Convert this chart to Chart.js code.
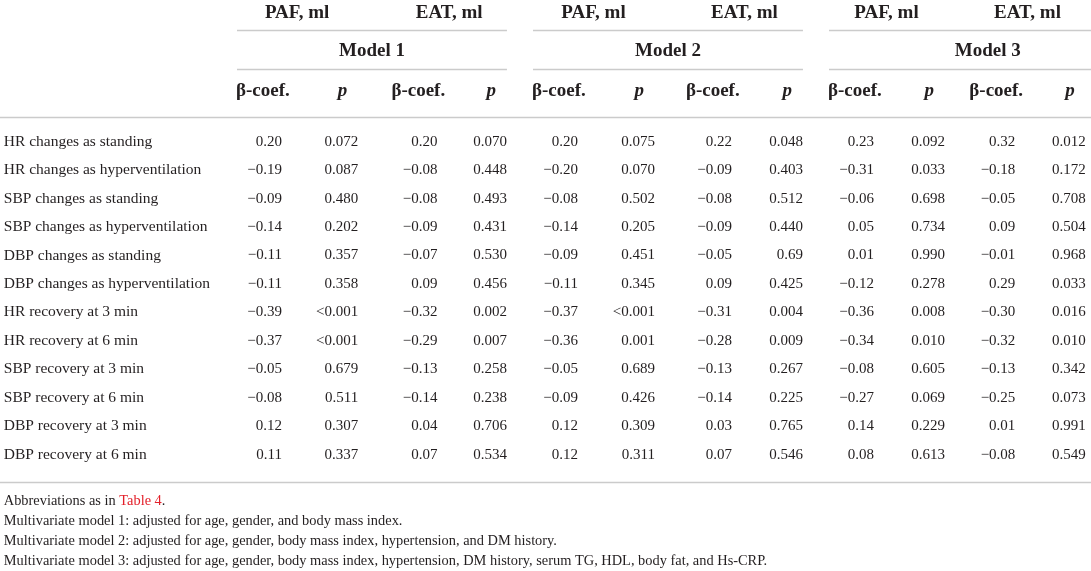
<!DOCTYPE html>
<html>
<head>
<meta charset="utf-8">
<script src="https://cdn.jsdelivr.net/npm/chart.js@4.4.1/dist/chart.umd.min.js"></script>
<style>
  html, body { margin: 0; padding: 0; background: #fff; }
  #wrap { width: 1091px; height: 571px; position: relative; }
</style>
</head>
<body>
<div id="wrap"><canvas id="tableChart"></canvas></div>
<script>
const rowLabels = [
    'HR changes as standing',
    'HR changes as hyperventilation',
    'SBP changes as standing',
    'SBP changes as hyperventilation',
    'DBP changes as standing',
    'DBP changes as hyperventilation',
    'HR recovery at 3 min',
    'HR recovery at 6 min',
    'SBP recovery at 3 min',
    'SBP recovery at 6 min',
    'DBP recovery at 3 min',
    'DBP recovery at 6 min'
];
const models = ['Model 1', 'Model 2', 'Model 3'];
const fatLabels = ['PAF, ml', 'EAT, ml'];
const statLabels = ['β-coef.', 'p'];

// Model 1
const m1PafBeta = [0.20, -0.19, -0.09, -0.14, -0.11, -0.11, -0.39, -0.37, -0.05, -0.08, 0.12, 0.11];
const m1PafP = ['0.072', '0.087', '0.480', '0.202', '0.357', '0.358', '<0.001', '<0.001', '0.679', '0.511', '0.307', '0.337'];
const m1EatBeta = [0.20, -0.08, -0.08, -0.09, -0.07, 0.09, -0.32, -0.29, -0.13, -0.14, 0.04, 0.07];
const m1EatP = ['0.070', '0.448', '0.493', '0.431', '0.530', '0.456', '0.002', '0.007', '0.258', '0.238', '0.706', '0.534'];
// Model 2
const m2PafBeta = [0.20, -0.20, -0.08, -0.14, -0.09, -0.11, -0.37, -0.36, -0.05, -0.09, 0.12, 0.12];
const m2PafP = ['0.075', '0.070', '0.502', '0.205', '0.451', '0.345', '<0.001', '0.001', '0.689', '0.426', '0.309', '0.311'];
const m2EatBeta = [0.22, -0.09, -0.08, -0.09, -0.05, 0.09, -0.31, -0.28, -0.13, -0.14, 0.03, 0.07];
const m2EatP = ['0.048', '0.403', '0.512', '0.440', '0.69', '0.425', '0.004', '0.009', '0.267', '0.225', '0.765', '0.546'];
// Model 3
const m3PafBeta = [0.23, -0.31, -0.06, 0.05, 0.01, -0.12, -0.36, -0.34, -0.08, -0.27, 0.14, 0.08];
const m3PafP = ['0.092', '0.033', '0.698', '0.734', '0.990', '0.278', '0.008', '0.010', '0.605', '0.069', '0.229', '0.613'];
const m3EatBeta = [0.32, -0.18, -0.05, 0.09, -0.01, 0.29, -0.30, -0.32, -0.13, -0.25, 0.01, -0.08];
const m3EatP = ['0.012', '0.172', '0.708', '0.504', '0.968', '0.033', '0.016', '0.010', '0.342', '0.073', '0.991', '0.549'];

const footnotes = [
    'Multivariate model 1: adjusted for age, gender, and body mass index.',
    'Multivariate model 2: adjusted for age, gender, body mass index, hypertension, and DM history.',
    'Multivariate model 3: adjusted for age, gender, body mass index, hypertension, DM history, serum TG, HDL, body fat, and Hs-CRP.'
];

const columns = [
    m1PafBeta, m1PafP, m1EatBeta, m1EatP,
    m2PafBeta, m2PafP, m2EatBeta, m2EatP,
    m3PafBeta, m3PafP, m3EatBeta, m3EatP
];

// layout: column anchors (right edge of numbers) in column units, row units for y
const colX = [0, 1.03, 2.1, 3.04, 4, 5.04, 6.08, 7.04, 8, 8.96, 9.91, 10.86];
const COL_W = 74;
const ROW_H = 28.45;
const FIRST_ROW = 141.7;
const rowPafEat = -4.53, rowModel = -3.2, rowStat = -1.79;
const line1 = -3.93, line2 = -2.56, line3 = -0.88, lineBottom = 11.95;
const footStart = 12.62, footStep = 0.703;
const modelExtend = [0, 0, 61];

const SERIF = '"Liberation Serif", "Times New Roman", serif';
const TEXT = '#231f20';
const RULE = '#cbcbcb';

const fmtCell = v => typeof v === 'number'
    ? (v < 0 ? '\u2212' : '') + Math.abs(v).toFixed(2)
    : v;

const datasets = columns.map((col, c) => ({
    label: models[Math.floor(c / 4)] + ' ' + fatLabels[Math.floor(c / 2) % 2] + ' ' + statLabels[c % 2],
    data: col.map((v, r) => ({ x: colX[c], y: r })),
    cellText: col.map(fmtCell),
    pointRadius: 0,
    showLine: false
}));

const tablePlugin = {
    id: 'tableText',
    beforeDatasetsDraw(chart) {
        const { ctx, scales: { x, y }, chartArea } = chart;
        ctx.save();
        ctx.strokeStyle = RULE;
        ctx.lineWidth = 1.5;
        const hline = (x0, x1, yv) => {
            const py = Math.round(y.getPixelForValue(yv)) + 0.5;
            ctx.beginPath();
            ctx.moveTo(x0, py);
            ctx.lineTo(x1, py);
            ctx.stroke();
        };
        models.forEach((m, i) => {
            const left = x.getPixelForValue(colX[i * 4]) - 45;
            const right = x.getPixelForValue(colX[i * 4 + 3]) + modelExtend[i];
            hline(left, right, line1);
            hline(left, right, line2);
        });
        hline(chartArea.left, chartArea.right, line3);
        hline(chartArea.left, chartArea.right, lineBottom);
        ctx.restore();
    },
    afterDatasetsDraw(chart) {
        const { ctx, scales: { x, y } } = chart;
        ctx.save();
        ctx.fillStyle = TEXT;
        ctx.textBaseline = 'middle';

        // row labels
        ctx.font = '15.5px ' + SERIF;
        ctx.textAlign = 'left';
        rowLabels.forEach((lab, r) => {
            ctx.fillText(lab, x.getPixelForValue(-3.76), y.getPixelForValue(r));
        });

        // cells
        ctx.font = '15px ' + SERIF;
        ctx.textAlign = 'right';
        chart.data.datasets.forEach((ds, i) => {
            chart.getDatasetMeta(i).data.forEach((el, r) => {
                ctx.fillText(ds.cellText[r], el.x, el.y);
            });
        });

        // headers
        models.forEach((m, i) => {
            const c0 = i * 4;
            const left = x.getPixelForValue(colX[c0]) - 45;
            const right = x.getPixelForValue(colX[c0 + 3]) + modelExtend[i];
            ctx.font = 'bold 19px ' + SERIF;
            ctx.textAlign = 'center';
            ctx.fillText(m, (left + right) / 2, y.getPixelForValue(rowModel));
            fatLabels.forEach((f, k) => {
                const bx = x.getPixelForValue(colX[c0 + k * 2]) - 46;
                const px = x.getPixelForValue(colX[c0 + k * 2 + 1]);
                ctx.font = 'bold 19px ' + SERIF;
                ctx.textAlign = 'center';
                ctx.fillText(f, (bx + px) / 2, y.getPixelForValue(rowPafEat));
                ctx.textAlign = 'left';
                ctx.fillText(statLabels[0], bx, y.getPixelForValue(rowStat));
                ctx.font = 'italic bold 19px ' + SERIF;
                ctx.textAlign = 'right';
                ctx.fillText(statLabels[1], px - 11, y.getPixelForValue(rowStat));
            });
        });

        // footnotes
        ctx.font = '14.4px ' + SERIF;
        ctx.textAlign = 'left';
        const fx = x.getPixelForValue(-3.76);
        let fy = y.getPixelForValue(footStart);
        const pre = 'Abbreviations as in ';
        ctx.fillText(pre, fx, fy);
        let w = ctx.measureText(pre).width;
        ctx.fillStyle = '#e3202a';
        ctx.fillText('Table 4', fx + w, fy);
        w += ctx.measureText('Table 4').width;
        ctx.fillStyle = TEXT;
        ctx.fillText('.', fx + w, fy);
        footnotes.forEach((t, k) => {
            ctx.fillText(t, fx, y.getPixelForValue(footStart + footStep * (k + 1)));
        });
        ctx.restore();
    }
};

new Chart(document.getElementById('tableChart').getContext('2d'), {
    type: 'scatter',
    data: { datasets: datasets },
    options: {
        responsive: true,
        maintainAspectRatio: false,
        animation: false,
        layout: { padding: 0 },
        plugins: {
            legend: { display: false },
            tooltip: { enabled: false }
        },
        scales: {
            x: {
                type: 'linear',
                display: false,
                min: -282 / COL_W,
                max: (1091 - 282) / COL_W
            },
            y: {
                type: 'linear',
                display: false,
                reverse: true,
                min: -FIRST_ROW / ROW_H,
                max: (571 - FIRST_ROW) / ROW_H
            }
        }
    },
    plugins: [tablePlugin]
});
</script>
</body>
</html>
